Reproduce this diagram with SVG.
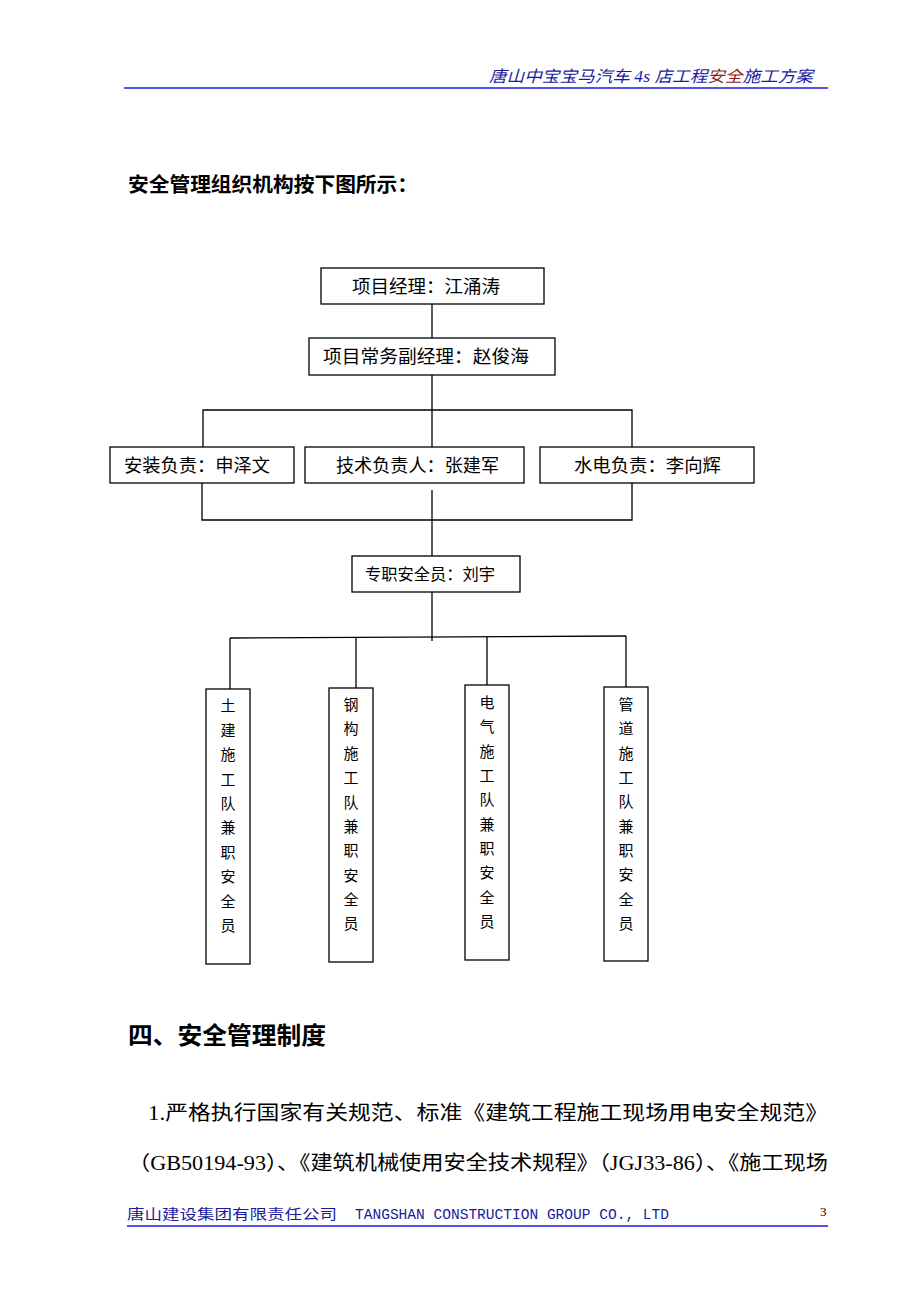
<svg xmlns="http://www.w3.org/2000/svg" width="920" height="1302" viewBox="0 0 920 1302">
<style>
.cjk{font-family:"Liberation Serif","Noto Sans CJK SC",serif;fill:#000}
.box{fill:#fff;stroke:#000;stroke-width:1.3}
.ln{stroke:#000;stroke-width:1.3;fill:none}
.bl{font-family:"Noto Sans CJK SC",sans-serif;font-weight:bold;fill:#000}
.vt{font-family:"Liberation Serif","Noto Sans CJK SC",serif;font-size:15px;fill:#000;text-anchor:middle}
</style>
<rect width="920" height="1302" fill="#fff"/>
<g id="header">
<text x="489" y="82" font-family="Liberation Serif,'Noto Sans CJK SC',serif" font-size="16" font-style="italic" fill="#1a1aa0" textLength="324" lengthAdjust="spacingAndGlyphs">唐山中宝宝马汽车 4s 店工程<tspan fill="#8b1a1a">安全</tspan>施工方案</text>
<line x1="124" y1="88" x2="828" y2="88" stroke="#1a1ae0" stroke-width="1.5"/>
</g>
<text class="bl" x="128" y="192" font-size="20" textLength="290" lengthAdjust="spacingAndGlyphs">安全管理组织机构按下图所示：</text>
<g id="connectors">
<line class="ln" x1="432" y1="304" x2="432" y2="338"/>
<line class="ln" x1="432" y1="375" x2="432" y2="447"/>
<polyline class="ln" points="203,447 203,410 632,410 632,447"/>
<polyline class="ln" points="202,483 202,520 632,520 632,483"/>
<line class="ln" x1="432" y1="490" x2="432" y2="556"/>
<line class="ln" x1="432" y1="592" x2="432" y2="641"/>
<line class="ln" x1="230" y1="638" x2="626" y2="636"/>
<line class="ln" x1="230" y1="638" x2="230" y2="689"/>
<line class="ln" x1="356" y1="638" x2="356" y2="688"/>
<line class="ln" x1="487" y1="637" x2="487" y2="685"/>
<line class="ln" x1="626" y1="636" x2="626" y2="687"/>
</g>
<g id="n-pm"><rect class="box" x="321" y="268" width="223" height="36"/><text class="cjk" x="352" y="293" font-size="18" textLength="148" lengthAdjust="spacingAndGlyphs">项目经理：江涌涛</text></g>
<g id="n-dpm"><rect class="box" x="309" y="338" width="246" height="37"/><text class="cjk" x="323" y="363" font-size="18" textLength="206" lengthAdjust="spacingAndGlyphs">项目常务副经理：赵俊海</text></g>
<g id="n-install"><rect class="box" x="110" y="447" width="184" height="36"/><text class="cjk" x="124" y="472" font-size="18" textLength="146" lengthAdjust="spacingAndGlyphs">安装负责：申泽文</text></g>
<g id="n-tech"><rect class="box" x="305" y="447" width="219" height="36"/><text class="cjk" x="336" y="472" font-size="18" textLength="163" lengthAdjust="spacingAndGlyphs">技术负责人：张建军</text></g>
<g id="n-water"><rect class="box" x="540" y="447" width="214" height="36"/><text class="cjk" x="574" y="472" font-size="18" textLength="147" lengthAdjust="spacingAndGlyphs">水电负责：李向辉</text></g>
<g id="n-safety"><rect class="box" x="352" y="556" width="168" height="36"/><text class="cjk" x="365" y="580" font-size="16" textLength="130" lengthAdjust="spacingAndGlyphs">专职安全员：刘宇</text></g>
<g id="n-civil"><rect class="box" x="206" y="689" width="44" height="275"/>
<text class="vt"><tspan x="228" y="711">土</tspan><tspan x="228" y="736">建</tspan><tspan x="228" y="760">施</tspan><tspan x="228" y="785">工</tspan><tspan x="228" y="809">队</tspan><tspan x="228" y="833">兼</tspan><tspan x="228" y="858">职</tspan><tspan x="228" y="882">安</tspan><tspan x="228" y="907">全</tspan><tspan x="228" y="931">员</tspan></text></g>
<g id="n-steel"><rect class="box" x="329" y="688" width="44" height="274"/>
<text class="vt"><tspan x="351" y="710">钢</tspan><tspan x="351" y="734">构</tspan><tspan x="351" y="759">施</tspan><tspan x="351" y="783">工</tspan><tspan x="351" y="808">队</tspan><tspan x="351" y="832">兼</tspan><tspan x="351" y="856">职</tspan><tspan x="351" y="881">安</tspan><tspan x="351" y="905">全</tspan><tspan x="351" y="929">员</tspan></text></g>
<g id="n-elec"><rect class="box" x="465" y="685" width="44" height="275"/>
<text class="vt"><tspan x="487" y="708">电</tspan><tspan x="487" y="732">气</tspan><tspan x="487" y="757">施</tspan><tspan x="487" y="781">工</tspan><tspan x="487" y="805">队</tspan><tspan x="487" y="830">兼</tspan><tspan x="487" y="854">职</tspan><tspan x="487" y="878">安</tspan><tspan x="487" y="903">全</tspan><tspan x="487" y="927">员</tspan></text></g>
<g id="n-pipe"><rect class="box" x="604" y="687" width="44" height="274"/>
<text class="vt"><tspan x="626" y="710">管</tspan><tspan x="626" y="734">道</tspan><tspan x="626" y="759">施</tspan><tspan x="626" y="783">工</tspan><tspan x="626" y="807">队</tspan><tspan x="626" y="832">兼</tspan><tspan x="626" y="856">职</tspan><tspan x="626" y="880">安</tspan><tspan x="626" y="905">全</tspan><tspan x="626" y="929">员</tspan></text></g>
<text class="bl" x="128" y="1044" font-size="24" textLength="198" lengthAdjust="spacingAndGlyphs">四、安全管理制度</text>
<text class="cjk" x="148" y="1120" font-size="20" textLength="680" lengthAdjust="spacingAndGlyphs">1.严格执行国家有关规范、标准《建筑工程施工现场用电安全规范》</text>
<text class="cjk" x="128" y="1170" font-size="20" textLength="700" lengthAdjust="spacingAndGlyphs">（GB50194-93）、《建筑机械使用安全技术规程》（JGJ33-86）、《施工现场</text>
<g id="footer">
<text x="127" y="1219" font-family="Liberation Serif,'Noto Sans CJK SC',serif" font-size="14" fill="#1a1aa0" textLength="210" lengthAdjust="spacingAndGlyphs">唐山建设集团有限责任公司</text>
<text x="355" y="1219" font-family="Liberation Mono,monospace" font-size="14" fill="#1a1aa0" textLength="314" lengthAdjust="spacingAndGlyphs">TANGSHAN CONSTRUCTION GROUP CO., LTD</text>
<text x="820" y="1216" font-family="Liberation Serif,serif" font-size="13" fill="#000">3</text>
<line x1="127" y1="1226" x2="828" y2="1226" stroke="#1a1ae0" stroke-width="1.5"/>
</g>
</svg>
